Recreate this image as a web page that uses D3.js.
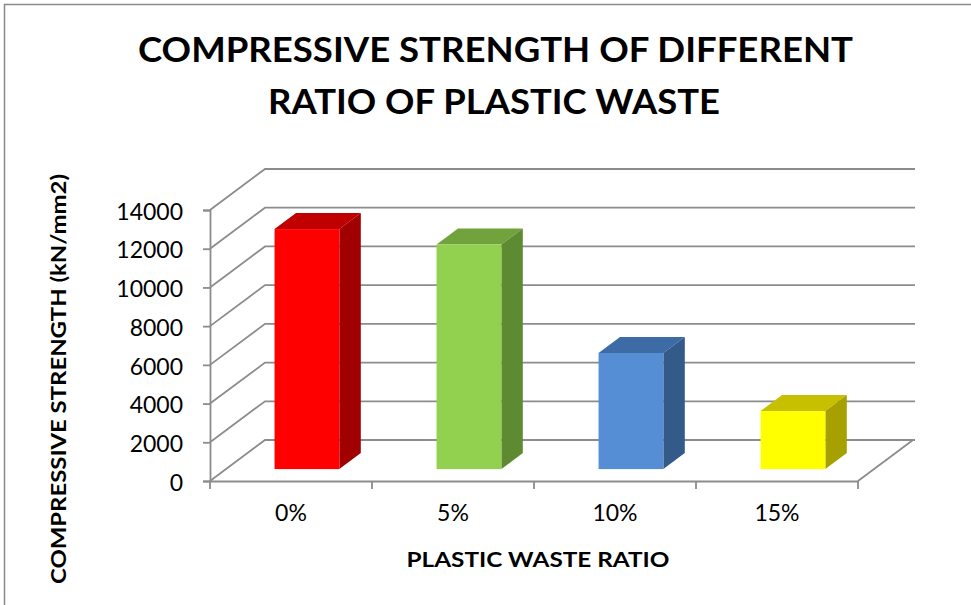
<!DOCTYPE html>
<html>
<head>
<meta charset="utf-8">
<script src="https://cdn.jsdelivr.net/npm/d3@7"></script>
<style>
  html, body { margin: 0; padding: 0; background: #fff; }
  svg { display: block; }
  text { font-family: Lato, "Open Sans", sans-serif; fill: #000; }
</style>
</head>
<body>
<div id="chart"></div>
<script>
// Chart data
const categories = ["0%", "5%", "10%", "15%"];
const strengths = [12400, 11600, 6000, 3000];
const yTicks = [0, 2000, 4000, 6000, 8000, 10000, 12000, 14000];
const titleLines = ["COMPRESSIVE STRENGTH OF DIFFERENT", "RATIO OF PLASTIC WASTE"];
const xTitle = "PLASTIC WASTE RATIO";
const yTitle = "COMPRESSIVE STRENGTH (kN/mm2)";

// Bar colours: front, top, side
const frontColors = ["#FF0000", "#92D050", "#558ED5", "#FFFF00"];
const topColors   = ["#C00000", "#71A33C", "#3D6BA6", "#C6C000"];
const sideColors  = ["#A00000", "#5E8A32", "#335A88", "#A6A000"];

const W = 971, H = 605;
const FONT = "Lato, 'Open Sans', sans-serif";
const svg = d3.select("#chart").append("svg").attr("width", W).attr("height", H);

// Outer frame
svg.append("rect").attr("x", 4.5).attr("y", 4.5).attr("width", W + 10).attr("height", H + 10)
  .attr("fill", "#fff").attr("stroke", "#8a8a8a").attr("stroke-width", 1.5);

// Front plane scales
const x = d3.scaleBand().domain(categories).range([210, 858]).paddingInner(0.6).paddingOuter(0.3);
const y = d3.scaleLinear().domain([0, 14000]).range([481, 210]);
const xStart = 210, xEnd = 858;

// Oblique depth vector of the plot box
const DX = 55, DY = -41;
const backRight = 915;
const depth = t => [DX * t, DY * t];

const grid = "#8c8c8c";
const gw = 1.8;

// Left wall diagonals and back wall gridlines
const gridG = svg.append("g").attr("fill", "none").attr("stroke", grid).attr("stroke-width", gw);
yTicks.forEach(v => {
  const yy = y(v);
  gridG.append("path").attr("d",
    `M${xStart},${yy} L${xStart + DX},${yy + DY} L${backRight},${yy + DY}`);
});
// Floor: right diagonal
gridG.append("path").attr("d", `M${xEnd},${y(0)} L${xEnd + DX},${y(0) + DY}`);

// Bars (oblique 3D boxes)
const f0 = 0.29, f1 = 0.68;
const barG = svg.append("g");
strengths.forEach((v, i) => {
  const [ox, oy] = depth(f0);
  const [bx, by] = depth(f1);
  const x0 = x(categories[i]) + ox, x1 = x0 + x.bandwidth();
  const yb = y(0) + oy, yt = y(v) + oy;
  const ddx = bx - ox, ddy = by - oy;
  // top face
  barG.append("path")
    .attr("d", `M${x0},${yt} L${x1},${yt} L${x1 + ddx},${yt + ddy} L${x0 + ddx},${yt + ddy} Z`)
    .attr("fill", topColors[i]);
  // side face
  barG.append("path")
    .attr("d", `M${x1},${yt} L${x1 + ddx},${yt + ddy} L${x1 + ddx},${yb + ddy} L${x1},${yb} Z`)
    .attr("fill", sideColors[i]);
  // front face
  barG.append("rect")
    .attr("x", x0).attr("y", yt).attr("width", x1 - x0).attr("height", yb - yt)
    .attr("fill", frontColors[i]);
});

// Y axis
const yAxisG = svg.append("g").attr("transform", `translate(${xStart},0)`)
  .call(d3.axisLeft(y).tickValues(yTicks).tickSize(7).tickPadding(20).tickFormat(d3.format("d")));
yAxisG.attr("font-family", FONT).attr("font-size", 23);
yAxisG.select(".domain").attr("stroke", grid).attr("stroke-width", gw);
yAxisG.selectAll(".tick line").attr("stroke", grid).attr("stroke-width", gw);
yAxisG.selectAll(".tick text").attr("fill", "#000").attr("dy", "0.4em");

// X axis (front floor edge)
const xAxisG = svg.append("g").attr("transform", `translate(0,${y(0)})`)
  .call(d3.axisBottom(x).tickSize(0).tickPadding(24));
xAxisG.attr("font-family", FONT).attr("font-size", 23);
xAxisG.select(".domain").attr("stroke", grid).attr("stroke-width", gw);
xAxisG.selectAll(".tick text").attr("fill", "#000");
// category boundary ticks
const step = x.step();
const bounds = d3.range(categories.length + 1).map(k => xStart + k * step);
svg.append("g").selectAll("line").data(bounds).join("line")
  .attr("x1", d => d).attr("x2", d => d).attr("y1", y(0)).attr("y2", y(0) + 8)
  .attr("stroke", grid).attr("stroke-width", gw);

// Text helper: fit a label to a given width
function fit(sel, width) {
  const len = sel.node().getComputedTextLength();
  if (Math.abs(len - width) > 2) sel.attr("textLength", width).attr("lengthAdjust", "spacingAndGlyphs");
  return sel;
}

// Title
fit(svg.append("text").attr("x", 495.5).attr("y", 62).attr("text-anchor", "middle")
  .attr("font-size", 34).attr("font-weight", 700).text(titleLines[0]), 715);
fit(svg.append("text").attr("x", 494).attr("y", 114).attr("text-anchor", "middle")
  .attr("font-size", 34).attr("font-weight", 700).text(titleLines[1]), 452);

// Axis titles
fit(svg.append("text").attr("x", 538).attr("y", 567).attr("text-anchor", "middle")
  .attr("font-size", 21).attr("font-weight", 700).text(xTitle), 263);
fit(svg.append("text").attr("transform", "translate(66,379) rotate(-90)").attr("text-anchor", "middle")
  .attr("font-size", 20).attr("font-weight", 700).text(yTitle), 410);
</script>
</body>
</html>
